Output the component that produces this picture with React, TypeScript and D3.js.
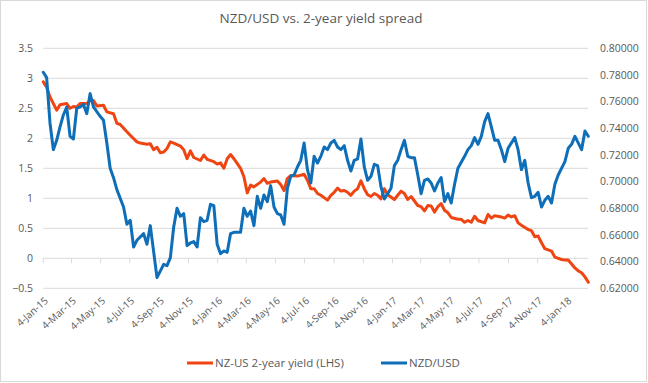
import React, { useEffect } from "react";
import * as d3 from "d3";

const titleText = "NZD/USD vs. 2-year yield spread";
const spreadLabel = "NZ-US 2-year yield (LHS)";
const nzdLabel = "NZD/USD";

const xTickLabels = [
  "4-Jan-15", "4-Mar-15", "4-May-15", "4-Jul-15", "4-Sep-15", "4-Nov-15",
  "4-Jan-16", "4-Mar-16", "4-May-16", "4-Jul-16", "4-Sep-16", "4-Nov-16",
  "4-Jan-17", "4-Mar-17", "4-May-17", "4-Jul-17", "4-Sep-17", "4-Nov-17",
  "4-Jan-18",
];
const leftTicks = [-0.5, 0, 0.5, 1, 1.5, 2, 2.5, 3, 3.5];
const rightTicks = [0.62, 0.64, 0.66, 0.68, 0.7, 0.72, 0.74, 0.76, 0.78, 0.8];
const xDomain = ["2015-01-04", "2018-02-18"];

const nzdDates = [
  "2015-01-04","2015-01-11","2015-01-18","2015-01-25","2015-02-01","2015-02-08","2015-02-15","2015-02-22",
  "2015-03-01","2015-03-08","2015-03-15","2015-03-22","2015-03-29","2015-04-05","2015-04-12","2015-04-19",
  "2015-05-03","2015-05-10","2015-05-17","2015-05-24","2015-05-31","2015-06-07","2015-06-21","2015-06-28",
  "2015-07-05","2015-07-12","2015-07-19","2015-08-02","2015-08-09","2015-08-16","2015-08-30","2015-09-13",
  "2015-09-20","2015-09-27","2015-10-04","2015-10-11","2015-10-18","2015-10-25","2015-11-01","2015-11-08",
  "2015-11-15","2015-11-22","2015-11-29","2015-12-06","2015-12-13","2015-12-20","2015-12-27","2016-01-03",
  "2016-01-10","2016-01-17","2016-01-24","2016-01-31","2016-02-07","2016-02-21","2016-02-28","2016-03-06",
  "2016-03-13","2016-03-20","2016-03-27","2016-04-03","2016-04-10","2016-04-17","2016-04-24","2016-05-01",
  "2016-05-08","2016-05-15","2016-05-22","2016-05-29","2016-06-05","2016-06-12","2016-06-19","2016-06-26",
  "2016-07-03","2016-07-10","2016-07-17","2016-07-24","2016-07-31","2016-08-07","2016-08-14","2016-08-21",
  "2016-08-28","2016-09-04","2016-09-11","2016-09-18","2016-09-25","2016-10-02","2016-10-09","2016-10-16",
  "2016-10-23","2016-10-30","2016-11-06","2016-11-13","2016-11-20","2016-11-27","2016-12-04","2016-12-11",
  "2016-12-18","2016-12-25","2017-01-01","2017-01-08","2017-01-15","2017-01-22","2017-01-29","2017-02-05",
  "2017-02-12","2017-02-19","2017-02-26","2017-03-05","2017-03-12","2017-03-19","2017-03-26","2017-04-02",
  "2017-04-09","2017-04-16","2017-04-23","2017-04-30","2017-05-07","2017-05-14","2017-05-21","2017-06-04",
  "2017-06-11","2017-06-18","2017-06-25","2017-07-02","2017-07-09","2017-07-16","2017-07-23","2017-07-30",
  "2017-08-06","2017-08-13","2017-08-20","2017-08-27","2017-09-03","2017-09-17","2017-09-24","2017-10-01",
  "2017-10-08","2017-10-15","2017-10-22","2017-10-29","2017-11-05","2017-11-12","2017-11-19","2017-11-26",
  "2017-12-03","2017-12-10","2017-12-17","2017-12-31","2018-01-07","2018-01-14","2018-01-21","2018-02-04",
  "2018-02-11","2018-02-18",
];
const nzdValues = [
  0.782,0.778,0.744,0.724,0.731,0.741,0.750,0.756,
  0.734,0.732,0.755,0.756,0.758,0.751,0.766,0.756,
  0.749,0.746,0.729,0.710,0.703,0.694,0.681,0.668,
  0.671,0.651,0.656,0.661,0.653,0.667,0.628,0.638,
  0.637,0.643,0.666,0.680,0.674,0.676,0.652,0.654,
  0.655,0.651,0.673,0.670,0.671,0.683,0.682,0.653,
  0.646,0.648,0.647,0.661,0.662,0.662,0.680,0.674,
  0.678,0.667,0.689,0.680,0.690,0.685,0.697,0.681,
  0.676,0.675,0.668,0.695,0.704,0.705,0.711,0.716,
  0.729,0.709,0.699,0.719,0.714,0.719,0.726,0.724,
  0.729,0.731,0.726,0.724,0.727,0.716,0.708,0.716,
  0.717,0.732,0.711,0.701,0.704,0.713,0.712,0.696,
  0.687,0.691,0.695,0.712,0.716,0.724,0.731,0.719,
  0.718,0.718,0.705,0.691,0.701,0.702,0.699,0.693,
  0.699,0.703,0.685,0.691,0.684,0.698,0.710,0.719,
  0.724,0.727,0.733,0.728,0.734,0.745,0.751,0.741,
  0.731,0.731,0.724,0.715,0.725,0.733,0.724,0.709,
  0.716,0.699,0.688,0.689,0.692,0.681,0.686,0.689,
  0.684,0.698,0.705,0.715,0.725,0.728,0.734,0.724,
  0.738,0.734,
];

const spreadDates = [
  "2015-01-04","2015-01-11","2015-01-18","2015-02-01","2015-02-08","2015-02-22","2015-03-01","2015-03-08",
  "2015-03-15","2015-03-22","2015-04-05","2015-04-12","2015-04-19","2015-04-26","2015-05-10","2015-05-17",
  "2015-05-31","2015-06-07","2015-06-14","2015-06-28","2015-07-05","2015-07-19","2015-07-26","2015-08-09",
  "2015-08-16","2015-08-23","2015-08-30","2015-09-06","2015-09-13","2015-09-20","2015-09-27","2015-10-04",
  "2015-10-18","2015-10-25","2015-11-01","2015-11-08","2015-11-15","2015-11-29","2015-12-06","2015-12-13",
  "2015-12-27","2016-01-03","2016-01-10","2016-01-17","2016-01-24","2016-01-31","2016-02-07","2016-02-21",
  "2016-02-28","2016-03-06","2016-03-13","2016-03-20","2016-04-03","2016-04-10","2016-04-17","2016-04-24",
  "2016-05-08","2016-05-15","2016-05-22","2016-05-29","2016-06-05","2016-06-19","2016-07-03","2016-07-10",
  "2016-07-17","2016-07-24","2016-07-31","2016-08-07","2016-08-21","2016-08-28","2016-09-04","2016-09-11",
  "2016-09-18","2016-09-25","2016-10-02","2016-10-09","2016-10-16","2016-10-23","2016-10-30","2016-11-06",
  "2016-11-13","2016-11-20","2016-11-27","2016-12-04","2016-12-11","2016-12-18","2016-12-25","2017-01-08",
  "2017-01-15","2017-01-22","2017-01-29","2017-02-05","2017-02-12","2017-02-26","2017-03-05","2017-03-12",
  "2017-03-19","2017-03-26","2017-04-02","2017-04-09","2017-04-16","2017-04-23","2017-04-30","2017-05-07",
  "2017-05-21","2017-05-28","2017-06-04","2017-06-11","2017-06-18","2017-06-25","2017-07-02","2017-07-16",
  "2017-07-23","2017-07-30","2017-08-06","2017-08-20","2017-08-27","2017-09-03","2017-09-10","2017-09-17",
  "2017-09-24","2017-10-01","2017-10-15","2017-10-22","2017-10-29","2017-11-05","2017-11-12","2017-11-19",
  "2017-12-03","2017-12-10","2017-12-24","2017-12-31","2018-01-07","2018-01-21","2018-01-28","2018-02-04",
  "2018-02-11","2018-02-18",
];
const spreadValues = [
  2.94,2.85,2.69,2.47,2.56,2.58,2.50,2.53,
  2.52,2.58,2.58,2.63,2.63,2.54,2.55,2.44,
  2.41,2.25,2.23,2.11,2.05,1.94,1.92,1.90,
  1.91,1.81,1.85,1.76,1.77,1.83,1.94,1.92,
  1.87,1.81,1.66,1.79,1.68,1.63,1.72,1.65,
  1.61,1.57,1.59,1.50,1.66,1.73,1.66,1.50,
  1.36,1.09,1.22,1.19,1.27,1.33,1.25,1.27,
  1.29,1.23,1.13,1.33,1.38,1.37,1.40,1.30,
  1.16,1.16,1.08,1.05,0.97,1.05,1.10,1.17,
  1.12,1.13,1.10,1.05,1.12,1.16,1.29,1.16,
  1.06,1.03,1.08,1.05,0.99,1.16,1.06,0.98,
  1.05,1.12,1.08,0.98,1.03,0.88,0.86,0.79,
  0.88,0.87,0.77,0.86,0.91,0.80,0.76,0.68,
  0.65,0.65,0.60,0.63,0.60,0.70,0.63,0.59,
  0.73,0.67,0.71,0.69,0.67,0.72,0.69,0.71,
  0.59,0.55,0.48,0.46,0.36,0.37,0.26,0.16,
  0.12,0.02,-0.02,-0.03,-0.03,-0.16,-0.21,-0.24,
  -0.31,-0.40,
];

const W = 648;
const H = 383;
const FONT = "'Open Sans', 'Noto Sans', sans-serif";
const TEXT = "#595959";
const GRID = "#d9d9d9";
const RED = "#EE4512";
const BLUE = "#0F6EB8";

export default function App() {
  useEffect(() => {
    document.body.style.margin = "0";
  }, []);

  const parseIso = d3.timeParse("%Y-%m-%d");
  const parseTick = d3.timeParse("%d-%b-%y");

  const x = d3
    .scaleTime()
    .domain(xDomain.map((s) => parseIso(s) as Date))
    .range([43.3, 588.3]);
  const yL = d3.scaleLinear().domain([-0.5, 3.5]).range([288.3, 48.3]);
  const yR = d3.scaleLinear().domain([0.62, 0.8]).range([288.3, 48.3]);

  const nzd = nzdDates.map((d, i) => ({ date: parseIso(d) as Date, v: nzdValues[i] }));
  const spread = spreadDates.map((d, i) => ({ date: parseIso(d) as Date, v: spreadValues[i] }));

  const lineL = d3
    .line<{ date: Date; v: number }>()
    .x((d) => x(d.date))
    .y((d) => yL(d.v));
  const lineR = d3
    .line<{ date: Date; v: number }>()
    .x((d) => x(d.date))
    .y((d) => yR(d.v));

  const [x0, x1] = x.range();
  const zeroY = yL(0);

  return (
    <svg width={W} height={H} style={{ display: "block" }} fontFamily={FONT}>
      <rect x={0} y={0} width={W} height={H} fill="#ffffff" />
      <rect x={0.5} y={0.5} width={W - 2} height={H - 2} fill="none" stroke={GRID} />
      <text x={321} y={23} textAnchor="middle" fontSize={13.5} fill={TEXT}>
        {titleText}
      </text>

      {leftTicks.map((t) =>
        t === 0 ? null : (
          <line key={"g" + t} x1={x0} x2={x1} y1={yL(t)} y2={yL(t)} stroke={GRID} strokeWidth={1} />
        )
      )}
      <line x1={x0} x2={x1} y1={zeroY} y2={zeroY} stroke={GRID} strokeWidth={1} />
      {xTickLabels.map((s) => {
        const tx = x(parseTick(s) as Date);
        return <line key={"t" + s} x1={tx} x2={tx} y1={zeroY} y2={zeroY + 5} stroke={GRID} />;
      })}

      {leftTicks.map((t) => (
        <text key={"l" + t} x={33} y={yL(t)} dy="0.35em" textAnchor="end" fontSize={10.5} fill={TEXT}>
          {d3.format("")(t)}
        </text>
      ))}
      {rightTicks.map((t) => (
        <text key={"r" + t} x={600} y={yR(t)} dy="0.35em" textAnchor="start" fontSize={10.5} fill={TEXT}>
          {d3.format(".5f")(t)}
        </text>
      ))}
      {xTickLabels.map((s) => {
        const tx = x(parseTick(s) as Date);
        return (
          <text
            key={"x" + s}
            transform={`translate(${tx + 3},${299}) rotate(-42)`}
            textAnchor="end"
            dy="0.35em"
            fontSize={10}
            fill={TEXT}
          >
            {s}
          </text>
        );
      })}

      <path d={lineL(spread) || ""} fill="none" stroke={RED} strokeWidth={3} strokeLinejoin="round" strokeLinecap="round" />
      <path d={lineR(nzd) || ""} fill="none" stroke={BLUE} strokeWidth={3} strokeLinejoin="round" strokeLinecap="round" />

      <line x1={187} x2={213} y1={363} y2={363} stroke={RED} strokeWidth={3} />
      <text x={215} y={363} dy="0.35em" fontSize={11.5} fill={TEXT}>
        {spreadLabel}
      </text>
      <line x1={381} x2={407} y1={363} y2={363} stroke={BLUE} strokeWidth={3} />
      <text x={409} y={363} dy="0.35em" fontSize={11.5} fill={TEXT}>
        {nzdLabel}
      </text>
    </svg>
  );
}
